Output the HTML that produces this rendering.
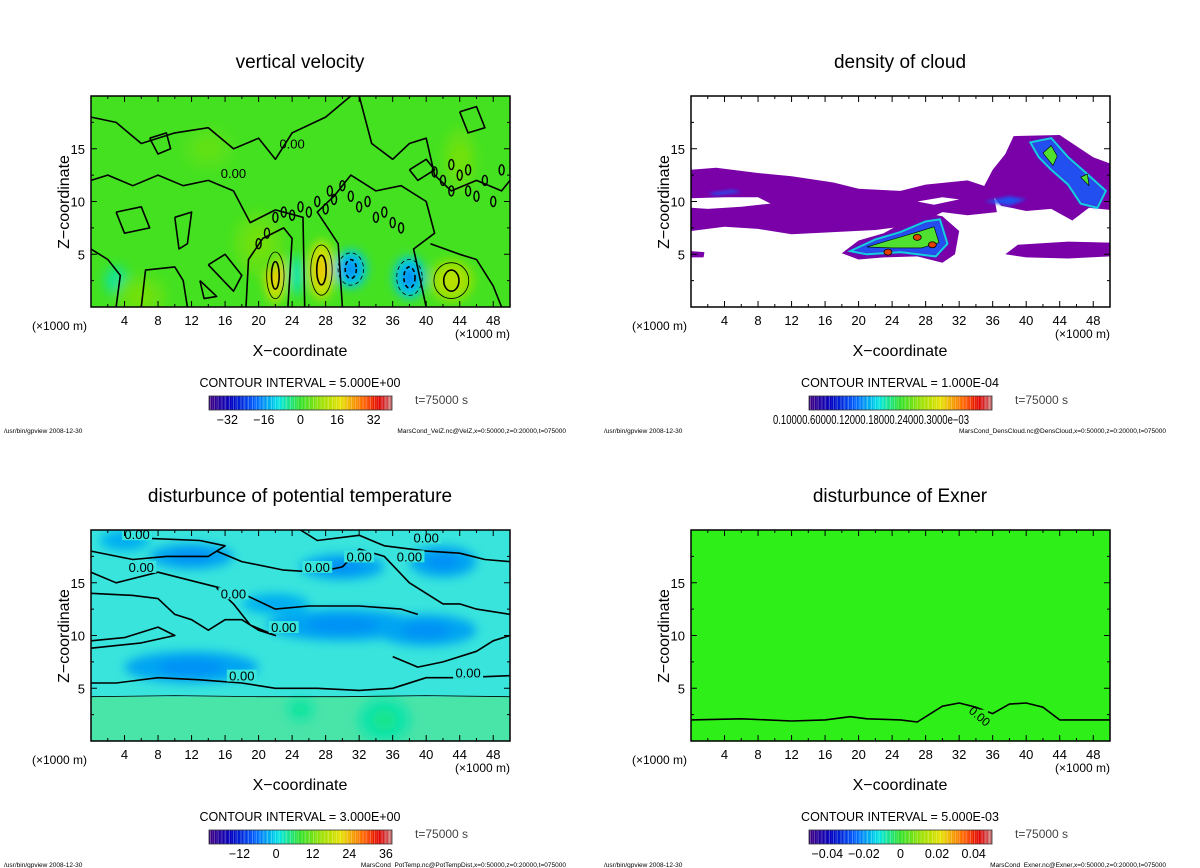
<!DOCTYPE html>
<html><head><meta charset="utf-8">
<style>
html,body{margin:0;padding:0;background:#fff;}
svg{display:block;font-family:"Liberation Sans","DejaVu Sans",sans-serif;}
</style></head>
<body>
<svg id="fig" width="1200" height="868" viewBox="0 0 1200 868" xmlns="http://www.w3.org/2000/svg">
<defs>
<filter id="blur6" x="-50%" y="-50%" width="200%" height="200%"><feGaussianBlur stdDeviation="5"/></filter>
<filter id="blur2" x="-50%" y="-50%" width="200%" height="200%"><feGaussianBlur stdDeviation="1.5"/></filter>
</defs>
</svg>
<script>
// ---------- data ----------
const xTickValues = [4,8,12,16,20,24,28,32,36,40,44,48];
const zTickValues = [5,10,15];
const panelTitles = ["vertical velocity","density of cloud","disturbunce of potential temperature","disturbunce of Exner"];
const contourIntervals = ["CONTOUR INTERVAL = 5.000E+00","CONTOUR INTERVAL = 1.000E-04","CONTOUR INTERVAL = 3.000E+00","CONTOUR INTERVAL = 5.000E-03"];
const colorbarRanges = [[-40,40],[0,1],[-22,38],[-0.05,0.05]];
const colorbarTicks1 = [-32,-16,0,16,32];
const colorbarTicks3 = [-12,0,12,24,36];
const colorbarTicks4 = [-0.04,-0.02,0,0.02,0.04];
const colorbarTickLabels4 = ["−0.04","−0.02","0","0.02","0.04"];
const footers = ["MarsCond_VelZ.nc@VelZ,x=0:50000,z=0:20000,t=075000","MarsCond_DensCloud.nc@DensCloud,x=0:50000,z=0:20000,t=075000","MarsCond_PotTemp.nc@PotTempDist,x=0:50000,z=0:20000,t=075000","MarsCond_Exner.nc@Exner,x=0:50000,z=0:20000,t=075000"];
// panel 1 field features: [x, z, rx, rz, value]
const velBlobs = [[22,3,1.3,2.6,14],[27.5,3.5,1.6,2.8,14],[43,2.5,2.6,2,9],[31,3.6,1.9,1.8,-12],[38,2.8,1.9,2,-12],[24.5,3,1,2,-5],[3,2.5,1.5,1.5,-4],[20,6,3,3,4],[6,1,3,2,4],[14,15,3,2,3],[44,14,2,3,4]];
const velZeroContours = [
 [[3,0],[3.5,3],[2,4.5],[0,5.5]],[[6,0],[6.5,3.5],[10,3.8],[11,2.5],[11.5,0]],[[13,2.5],[15,1],[13.5,0.8],[13,2.5]],
 [[18.5,0],[18.8,4.5],[20.5,6.5],[23,7.5],[24,6.5],[23.5,0]],[[25.5,0],[25.3,8.5],[22,9.2],[19,8],[17,11],[14,12],[11,11.5],[8,12.5],[5,11.5],[2,12.5],[0,12]],
 [[30,0],[29.5,6],[27,9],[29,10.5],[31,12.5],[34,11],[37,11.5],[40,10],[41,7],[38.5,5.5],[40,0]],
 [[40.5,6],[44,5],[46,4.5],[48,2],[49,0]],[[0,18],[3,17.5],[6,15.5],[10,16.5],[14,17],[17,15],[20,16],[22,14],[24,16.5],[28,18],[31,20]],
 [[32,20],[33.5,15.5],[36,14],[38,15.5],[40,16],[41,12.5],[43,11],[46,12],[49,11],[50,12]],[[10,8.5],[12,9],[11.5,6],[10.5,5.5],[10,8.5]],
 [[14,4],[16,5],[18,3],[17,1.5],[14,4]],[[3,9],[6,9.5],[7,7.5],[4,7],[3,9]],[[38,13],[40,14],[41,13],[39,12],[38,13]],
 [[44,18.5],[46,19],[47,17],[45,16.5],[44,18.5]],[[7,16],[9,16.5],[9.5,15],[8,14.5],[7,16]]
];
// small closed loops (x, z) in panel 1 turbulent zone
const velLoops = [[22,8.5],[23,9],[24,8.7],[25,9.5],[26,9],[27,10],[28,9.3],[28.5,11],[29,10.2],[30,11.5],[31,10.5],[32,9.5],[33,10],[34,8.5],[35,9],[36,8],[37,7.5],[21,7],[20,6],[42,12],[43,11],[44,12.5],[45,11],[46,10.5],[47,12],[48,10],[43,13.5],[41,12.8],[49,13],[45,13]];
// panel 2 cloud regions: polygons [x,z]
const cloudPurple = [
 [[0,13],[3,13.2],[8,12.7],[12,12.4],[17,11.8],[20,11.2],[25,11],[28,11.6],[33,12],[36,11.2],[36.5,9],[33,8.7],[30,9],[27,7.8],[22,7.3],[17,7.1],[12,6.9],[8,7.4],[4,7.6],[0,7.2]],
 [[35,11.5],[36,13],[37.5,14.5],[38.5,16.2],[44,16.3],[48,14.2],[50,13.6],[50,9.2],[47.5,9.4],[45.5,8.2],[43,9.3],[40,9.1],[37,9.6]],
 [[18,5.1],[20,6.3],[23,7],[26,8.3],[28,8.9],[30,8.6],[32,7.2],[31.5,5],[30,4.2],[27,4.8],[23,4.7],[20,4.5]],
 [[37.5,5],[39,5.9],[45,6.2],[50,6.1],[50,4.8],[45,4.6],[40,4.7]],
 [[0,5.3],[1.6,5.2],[1.5,4.7],[0,4.7]]
];
const cloudHoles = [[[0,10.3],[4,10.4],[8,10.4],[9.5,9.8],[6,9.5],[2,9.3],[0,9.4]],[[27,10],[30,10.4],[32,10.2],[29,9.7]]];
const cloudBlue = [
 [[19,5.3],[22,6.4],[25,7.1],[28,8.1],[29.7,8.3],[30.6,6],[29.2,4.8],[25,5.2],[21,5]],
 [[40.5,15.6],[43,16],[45,14.2],[47,12.8],[49.5,11],[48.5,9.4],[46.5,9.8],[45,11.6],[43,13],[41.5,14.2]],
 [[35,10],[38,10.5],[40,10.2],[38,9.6]],[[2,10.8],[5,11.1],[6,10.9],[3,10.6]]
];
const cloudGreen = [
 [[21,5.7],[24,6.4],[27,7.1],[29,7.6],[29.6,6.1],[27.5,5.6],[24,5.6]],
 [[42,14.6],[43,15.3],[43.7,14.3],[43.2,13.4]],[[46.5,12.3],[47.3,12.6],[47.5,11.5]]
];
const cloudRed = [[23.5,5.2],[28.8,5.9],[27,6.6]];
// panel 3 features
const ptBlobs = [[12,17.5,5,1.2,-3],[30,16.5,5,1.2,-3],[42,17,4,1.5,-3],[30,11,9,1.5,-3],[40,10.5,6,1.5,-3],[12,7,8,1.5,-3],[4,19,3,1,-2],[22,13,4,1,-2],[25,3,1.5,1,3],[35,2,3,2,3]];
const ptContours = [
 [[5,20],[7,19.2],[13,19],[16,18.5],[14,17.5],[9,17.5],[5,17.2],[0,18]],
 [[25,20],[27,19],[32,19.5],[35,18.5],[40,18],[44,17.8],[47,17.2],[50,17]],
 [[15,18],[18,17],[23,16.2],[27,16],[30,16.5],[32,18.2],[35,17.5],[38,15],[42,13],[44,13],[46,12.5],[50,12]],
 [[0,16],[3,15],[8,16],[13,15],[18,14],[22,12.5],[26,12.8],[32,12.8],[37,12.5],[39,12]],
 [[0,14],[5,13.8],[8,13.5],[10,12],[12,11.5],[14,10.5],[16,11.5],[18,11.5],[20,10.5],[22,10],[19,11],[17,13],[15,14.5]],
 [[0,9.5],[4,9.8],[8,10.8],[10,10],[6,9.3],[0,8.8]],
 [[0,5.5],[3,5.5],[8,6],[13,5.8],[18,5.5],[22,5],[27,5],[32,4.8],[36,5],[40,6],[44,6],[50,6.2]],
 [[36,8],[39,7],[42,7.5],[46,8.5],[48,9.5],[50,10]],
 [[0,4.2],[10,4.3],[20,4.2],[30,4.2],[40,4.3],[50,4.2]]
];
const ptLabels = [[5.5,19.6],[6,16.5],[27,16.5],[17,14],[38,17.5],[32,17.5],[23,10.8],[18,6.2],[45,6.5],[40,19.3]];
// panel 4 contour
const exnerZero = [[0,2],[6,2.1],[12,1.9],[16,2],[19,2.3],[21,2.1],[25,2],[27,1.8],[30,3.3],[32,3.6],[34,3.2],[36,2.6],[38,3.5],[40,3.6],[42,3.2],[44,2],[48,2],[50,2]];

// ---------- helpers ----------
const svg = document.getElementById('fig');
const NS = 'http://www.w3.org/2000/svg';
function mk(tag, attrs, parent){ const e=document.createElementNS(NS,tag); for(const k in attrs) e.setAttribute(k,attrs[k]); (parent||svg).appendChild(e); return e; }
const stops=[[0,[64,0,128]],[0.12,[0,0,192]],[0.25,[0,96,255]],[0.38,[0,230,230]],[0.5,[50,225,40]],[0.62,[160,225,0]],[0.72,[232,225,0]],[0.85,[255,96,0]],[0.93,[224,0,0]],[1,[200,128,128]]];
function cmap(t){ t=Math.max(0,Math.min(1,t)); for(let i=1;i<stops.length;i++){ if(t<=stops[i][0]){ const a=stops[i-1],b=stops[i],f=(t-a[0])/(b[0]-a[0]); const c=a[1].map((v,j)=>Math.round(v+(b[1][j]-v)*f)); return `rgb(${c[0]},${c[1]},${c[2]})`; } } return 'rgb(200,128,128)'; }
const offsets=[[0,0],[600,0],[0,434],[600,434]];
function axes(i){ const [ox,oy]=offsets[i]; return {x:v=>91+ox+(v/50)*419, z:v=>307+oy-(v/20)*211, ox, oy}; }
function pathD(pts,A,close){ return pts.map((p,k)=>(k?'L':'M')+A.x(p[0]).toFixed(1)+','+A.z(p[1]).toFixed(1)).join('')+(close?'Z':''); }

function panelFrame(i, bg){
  const A=axes(i);
  const g=mk('g',{});
  
  
  const cp=mk('clipPath',{id:'clip'+i},g); mk('rect',{x:A.x(0),y:A.z(20),width:419,height:211},cp);
  const plot=mk('g',{'clip-path':`url(#clip${i})`},g);
  
  
  mk('rect',{x:A.x(0),y:A.z(20),width:419,height:211,fill:bg},plot);
  return {A,g,plot};
}
function panelDecor(i,g,A){
  const frame=mk('rect',{x:A.x(0),y:A.z(20),width:419,height:211,fill:'none',stroke:'#000','stroke-width':1.5},g);
  
  
  for(let v=2;v<50;v+=2){ const L=v%4===0?6:3;
    mk('line',{x1:A.x(v),x2:A.x(v),y1:A.z(0),y2:A.z(0)-L,stroke:'#000'},g);
    mk('line',{x1:A.x(v),x2:A.x(v),y1:A.z(20),y2:A.z(20)+L,stroke:'#000'},g); }
  for(let v=2.5;v<20;v+=2.5){ const L=v%5===0?6:3;
    mk('line',{x1:A.x(0),x2:A.x(0)+L,y1:A.z(v),y2:A.z(v),stroke:'#000'},g);
    mk('line',{x1:A.x(50),x2:A.x(50)-L,y1:A.z(v),y2:A.z(v),stroke:'#000'},g); }
  xTickValues.forEach(v=>{ const t=mk('text',{x:A.x(v),y:A.z(0)+18,'font-size':13,'text-anchor':'middle'},g); t.textContent=v;
      });
  zTickValues.forEach(v=>{ const t=mk('text',{x:A.x(0)-6,y:A.z(v)+5,'font-size':13,'text-anchor':'end'},g); t.textContent=v;
      });
  const ox=A.ox, oy=A.oy;
  let t=mk('text',{x:300+ox,y:68+oy,'font-size':19,'text-anchor':'middle'},g); t.textContent=panelTitles[i];
   
  t=mk('text',{x:0,y:0,'font-size':16,'text-anchor':'middle',transform:`translate(${69+ox},${202+oy}) rotate(-90)`},g); t.textContent='Z−coordinate';
   
  t=mk('text',{x:300+ox,y:356+oy,'font-size':16,'text-anchor':'middle'},g); t.textContent='X−coordinate';
   
  t=mk('text',{x:32+ox,y:330+oy,'font-size':12},g); t.textContent='(×1000 m)';
   
  t=mk('text',{x:455+ox,y:338+oy,'font-size':12},g); t.textContent='(×1000 m)';
   
  t=mk('text',{x:300+ox,y:387+oy,'font-size':12.5,'text-anchor':'middle'},g); t.textContent=contourIntervals[i];
   
  t=mk('text',{x:415+ox,y:404+oy,'font-size':12,fill:'#444'},g); t.textContent='t=75000 s';
   
  t=mk('text',{x:4+ox,y:433+oy,'font-size':6.5},g); t.textContent='/usr/bin/gpview   2008-12-30';
   
  t=mk('text',{x:566+ox,y:433+oy,'font-size':6.5,'text-anchor':'end'},g); t.textContent=footers[i];
   
  // colorbar
  const cb=mk('g',{},g);
  
  
  const bx=209+ox, bw=183, by=396+oy, bh=14, n=48;
  for(let k=0;k<n;k++){ mk('rect',{x:bx+k*bw/n,y:by,width:bw/n,height:bh,fill:cmap((k+0.5)/n)},cb);
    mk('line',{x1:bx+k*bw/n+1.5,x2:bx+k*bw/n+1.5,y1:by,y2:by+bh,stroke:'rgba(255,255,255,0.35)','stroke-width':0.8},cb); }
  mk('rect',{x:bx,y:by,width:bw,height:bh,fill:'none',stroke:'#333','stroke-width':0.8},cb);
  const [lo,hi]=colorbarRanges[i]; const cx=v=>bx+(v-lo)/(hi-lo)*bw;
  const addTick=(v,lab)=>{ const tt=mk('text',{x:cx(v),y:by+bh+14,'font-size':12.5,'text-anchor':'middle'},cb); tt.textContent=lab;
      };
  if(i===0) colorbarTicks1.forEach(v=>addTick(v,v<0?'−'+(-v):String(v)));
  if(i===2) colorbarTicks3.forEach(v=>addTick(v,v<0?'−'+(-v):String(v)));
  if(i===3) colorbarTicks4.forEach((v,k)=>addTick(v,colorbarTickLabels4[k]));
  if(i===1){ const tt=mk('text',{x:bx-36,y:by+bh+14,'font-size':12.5,textLength:196,lengthAdjust:'spacingAndGlyphs'},cb); tt.textContent='0.10000.60000.12000.18000.24000.3000e−03';
      }
}
function blobs(plot,A,list,lo,hi){
  const bgG=mk('g',{filter:'url(#blur6)'},plot);
  list.forEach(b=>{ const e=mk('ellipse',{cx:A.x(b[0]),cy:A.z(b[1]),rx:b[2]*8.38,ry:b[3]*10.55,fill:cmap((b[4]-lo)/(hi-lo))},bgG);
     
    mk('ellipse',{cx:A.x(b[0]),cy:A.z(b[1]),rx:b[2]*8.38*0.5,ry:b[3]*10.55*0.5,fill:cmap((b[4]*1.4-lo)/(hi-lo))},bgG); });
}
function contours(plot,A,list,w,dash){
  list.forEach(c=>{ const p=mk('path',{d:pathD(c,A,false),fill:'none',stroke:'#000','stroke-width':w,'stroke-dasharray':dash||'none','stroke-linejoin':'round'},plot);
      });
}
function label00(plot,A,x,z){ const t=mk('text',{x:A.x(x),y:A.z(z)+5,'font-size':13,'text-anchor':'middle',fill:'#000'},plot); t.textContent='0.00';
    }

// ---------- panel 1 ----------
(function(){ const {A,g,plot}=panelFrame(0,cmap(0.52));
  blobs(plot,A,velBlobs,-40,40);
  contours(plot,A,velZeroContours,1.6);
  velLoops.forEach(p=>{ const e=mk('ellipse',{cx:A.x(p[0]),cy:A.z(p[1]),rx:2.5,ry:5,fill:'none',stroke:'#000','stroke-width':1.4},plot);
      });
  velBlobs.forEach(b=>{ if(Math.abs(b[4])>=8){ const e=mk('ellipse',{cx:A.x(b[0]),cy:A.z(b[1]),rx:b[2]*8.38*0.8,ry:b[3]*10.55*0.85,fill:'none',stroke:'#000','stroke-width':0.8,'stroke-dasharray':b[4]<0?'4,3':'none'},plot);
     
    const e2=mk('ellipse',{cx:A.x(b[0]),cy:A.z(b[1]),rx:b[2]*8.38*0.35,ry:b[3]*10.55*0.5,fill:'none',stroke:'#000','stroke-width':1.6,'stroke-dasharray':b[4]<0?'4,3':'none'},plot);
      } });
  label00(plot,A,17,12.7); label00(plot,A,24,15.5);
  panelDecor(0,g,A); })();
// ---------- panel 2 ----------
(function(){ const {A,g,plot}=panelFrame(1,'#ffffff');
  const add=(pts,fill,extra)=>{ const p=mk('path',Object.assign({d:pathD(pts,A,true),fill:fill},extra||{}),plot);   };
  cloudPurple.forEach(p=>add(p,'#7a00a8'));
  cloudHoles.forEach(p=>add(p,'#ffffff'));
  cloudBlue.forEach(p=>add(p,'#2050f0',{filter:'url(#blur2)'}));
  cloudBlue.slice(0,2).forEach(p=>add(p,'none',{stroke:'#10d0e0','stroke-width':2}));
  cloudGreen.forEach(p=>add(p,'#50e030',{stroke:'#000','stroke-width':0.6}));
  cloudRed.forEach(c=>{ const e=mk('ellipse',{cx:A.x(c[0]),cy:A.z(c[1]),rx:4,ry:3,fill:'#e04000',stroke:'#000','stroke-width':0.8},plot);   });
  panelDecor(1,g,A); })();
// ---------- panel 3 ----------
(function(){ const {A,g,plot}=panelFrame(2,'#38e4dc');
  const low=mk('rect',{x:A.x(0),y:A.z(4.2),width:419,height:A.z(0)-A.z(4.2),fill:'#48e4a8'},plot);
   
  blobs(plot,A,ptBlobs,-22,38);
  contours(plot,A,ptContours.slice(0,8),1.6);
  contours(plot,A,ptContours.slice(8),0.8);
  ptLabels.forEach(p=>{ const r=mk('rect',{x:A.x(p[0])-15,y:A.z(p[1])-6,width:30,height:12,fill:'#38e4dc'},plot);   label00(plot,A,p[0],p[1]); });
  panelDecor(2,g,A); })();
// ---------- panel 4 ----------
(function(){ const {A,g,plot}=panelFrame(3,'#2ef018');
  contours(plot,A,[exnerZero],1.6);
  const r=mk('rect',{x:A.x(34)-14,y:A.z(2.4)-6,width:26,height:12,fill:'#2ef018'},plot);  
  const t=mk('text',{x:A.x(34.5),y:A.z(2.4)+5,'font-size':12,'text-anchor':'middle',transform:`rotate(40 ${A.x(34.5)} ${A.z(2.4)})`},plot); t.textContent='0.00';
   
  panelDecor(3,g,A); })();
</script>
</body></html>
